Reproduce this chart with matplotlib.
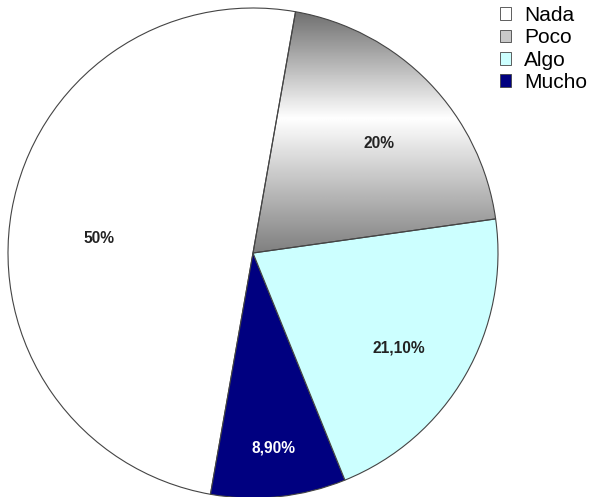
import numpy as np
import matplotlib.pyplot as plt
from matplotlib.patches import Patch
from matplotlib.colors import LinearSegmentedColormap

# datos del gráfico
categorias = ['Nada', 'Poco', 'Algo', 'Mucho']
valores = [50.0, 20.0, 21.1, 8.9]
etiquetas = ['50%', '20%', '21,10%', '8,90%']

colores = ['#ffffff', '#b0b0b0', '#ccffff', '#000080']
color_texto = ['#222222', '#222222', '#222222', '#ffffff']
dist_texto = [0.63, 0.68, 0.71, 0.80]
giro_texto = [4.5, -3.0, -3.0, 0.0]  # ajuste angular de las etiquetas (grados)
orden = [0, 3, 2, 1]  # orden de dibujo (antihorario)

plt.rcParams['font.family'] = ['Liberation Sans', 'DejaVu Sans']

fig = plt.figure(figsize=(5.92, 4.97), dpi=100)
ax = fig.add_axes([8 / 592, -1 / 497, 490 / 592, 490 / 497])

wedges, _ = ax.pie([valores[i] for i in orden],
                   colors=[colores[i] for i in orden],
                   startangle=80, counterclock=True, radius=1,
                   wedgeprops=dict(edgecolor='#444444', linewidth=0.8))
ax.set_xlim(-1, 1)
ax.set_ylim(-1, 1)
ax.set_aspect('auto')
ax.axis('off')

# degradado gris para "Poco"
w_poco = wedges[orden.index(1)]
w_poco.set_facecolor('none')
yy = np.linspace(0, 1, 256)
gris = np.interp(yy, [0.0, 0.55, 1.0], [0.5, 1.0, 0.42])
grad = np.repeat(gris[:, None], 2, axis=1)
cmap = LinearSegmentedColormap.from_list('g', ['black', 'white'])
im = ax.imshow(grad, extent=[0, 1, 0, 1], origin='lower', cmap=cmap,
               vmin=0, vmax=1, aspect='auto', zorder=0.5, interpolation='bilinear')
im.set_clip_path(w_poco)
w_poco.set_zorder(1)

# etiquetas de porcentaje
for k, i in enumerate(orden):
    w = wedges[k]
    ang = np.deg2rad((w.theta1 + w.theta2) / 2 + giro_texto[i])
    r = dist_texto[i]
    ax.text(r * np.cos(ang), r * np.sin(ang), etiquetas[i], ha='center', va='center',
            fontsize=11.2, fontweight='bold', color=color_texto[i], zorder=3)

for w in wedges:
    w.set_clip_on(False)

handles = [Patch(facecolor=colores[i], edgecolor='#444444', linewidth=0.6) for i in range(4)]
handles[1] = Patch(facecolor='#c8c8c8', edgecolor='#444444', linewidth=0.6)
fig.legend(handles, categorias, loc='upper left', bbox_to_anchor=(500 / 592, 1 - 6 / 497),
           frameon=False, fontsize=15, handlelength=0.52, handleheight=0.55,
           handletextpad=0.62, labelspacing=0.16, borderaxespad=0, borderpad=0)

fig.savefig('out.png', dpi=100)
